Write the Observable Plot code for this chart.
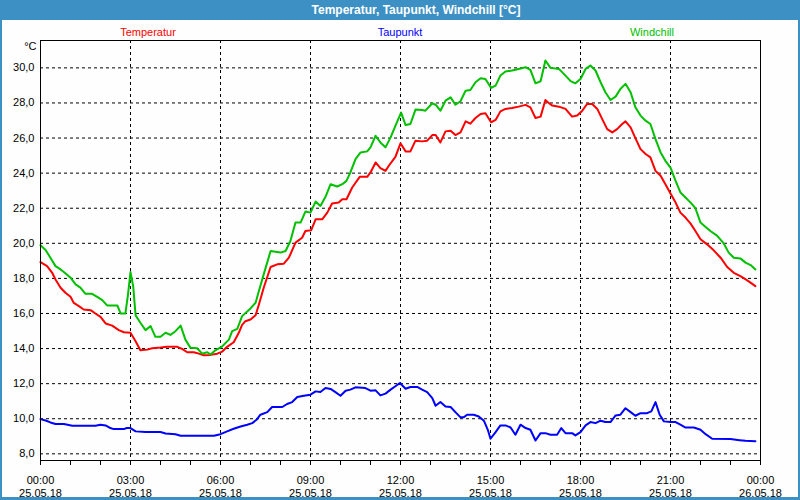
<!DOCTYPE html>
<html><head><meta charset="utf-8">
<script src="https://cdn.jsdelivr.net/npm/d3@7"></script>
<script src="https://cdn.jsdelivr.net/npm/@observablehq/plot@0.6"></script>
<style>
body{margin:0;background:#fff;}
#wrap{position:relative;width:800px;height:500px;background:#fdfefd;font-family:"Liberation Sans",Arial,sans-serif;overflow:hidden;}
#title{height:20px;background:#3d90c4;color:#fff;font-weight:bold;font-size:12px;line-height:20px;position:relative;}
#title span{position:absolute;left:416px;top:0;transform:translateX(-50%);white-space:nowrap;}
#border{position:absolute;left:0;top:0;width:800px;height:500px;box-sizing:border-box;border:2px solid #3d90c4;border-top:none;border-bottom-width:3px;pointer-events:none;}
.leg{position:absolute;top:26px;font-size:11px;line-height:12px;transform:translateX(-50%);white-space:nowrap;}
#chart svg{display:block;}
</style>
</head><body>
<div id="wrap">
  <div id="title"><span>Temperatur, Taupunkt, Windchill [°C]</span></div>
  <div id="chart"></div>
  <div class="leg" id="leg0"></div>
  <div class="leg" id="leg1"></div>
  <div class="leg" id="leg2"></div>
  <div id="border"></div>
</div>
<script>
// Series names and colours
const seriesNames = ["Temperatur", "Taupunkt", "Windchill"];
const seriesColors = ["#ff0000", "#0000ff", "#00c000"];

// X tick labels (hours since 25.05.18 00:00)
const majorHours = [0, 3, 6, 9, 12, 15, 18, 21, 24];
const timeLabels = ["00:00","03:00","06:00","09:00","12:00","15:00","18:00","21:00","00:00"];
const dateLabels = ["25.05.18","25.05.18","25.05.18","25.05.18","25.05.18","25.05.18","25.05.18","25.05.18","26.05.18"];
const minorHours = d3.range(0, 25);
const yTicks = [8, 10, 12, 14, 16, 18, 20, 22, 24, 26, 28, 30];

// Temperatur
const tempHours = [0,0.22,0.39,0.5,0.67,0.83,1.0,1.11,1.28,1.44,1.67,1.83,2.0,2.17,2.39,2.61,2.78,3.0,3.17,3.33,3.56,3.72,4.0,4.22,4.56,4.72,4.89,5.11,5.28,5.44,5.67,5.89,6.06,6.22,6.44,6.61,6.72,6.83,7.0,7.17,7.28,7.44,7.67,7.89,8.11,8.28,8.5,8.72,8.83,9.02,9.17,9.39,9.56,9.72,9.94,10.06,10.2,10.39,10.64,10.89,11.0,11.17,11.33,11.5,11.61,11.83,12.0,12.17,12.33,12.5,12.72,12.89,13.06,13.17,13.33,13.5,13.67,13.83,14.0,14.17,14.33,14.5,14.67,14.83,15.02,15.17,15.33,15.5,15.72,15.94,16.17,16.33,16.5,16.67,16.83,16.91,17.06,17.28,17.5,17.72,17.89,18.06,18.22,18.39,18.56,18.72,18.89,19.06,19.22,19.39,19.5,19.67,19.83,20.0,20.17,20.33,20.5,20.67,20.83,21.0,21.17,21.33,21.5,21.67,21.83,22.0,22.22,22.44,22.67,22.89,23.11,23.33,23.56,23.83];
const tempValues = [18.93,18.7,18.32,17.94,17.47,17.18,16.95,16.6,16.42,16.23,16.19,16.0,15.81,15.43,15.31,15.05,14.93,14.9,14.42,13.9,13.94,14.02,14.06,14.1,14.1,13.98,13.79,13.79,13.71,13.62,13.64,13.71,13.83,14.1,14.36,14.9,15.35,15.56,15.66,15.9,16.51,17.47,18.65,18.8,18.84,19.18,20.04,20.32,20.7,20.74,21.37,21.37,21.75,22.27,22.32,22.51,22.51,23.18,23.79,23.79,24.04,24.61,24.29,24.13,24.42,24.93,25.7,25.24,25.24,25.85,25.81,25.85,26.17,26.17,25.75,26.38,26.42,26.17,26.32,26.95,26.82,27.14,27.37,27.41,26.9,27.03,27.52,27.66,27.71,27.79,27.89,27.75,27.14,27.22,28.17,28.04,27.85,27.79,27.66,27.22,27.28,27.56,27.94,27.94,27.66,27.09,26.51,26.32,26.51,26.8,26.95,26.61,26.0,25.37,25.09,24.9,24.13,23.85,23.37,22.84,22.32,21.75,21.47,21.12,20.7,20.23,19.94,19.6,19.18,18.65,18.32,18.13,17.89,17.56];

// Taupunkt
const dewHours = [0,0.17,0.33,0.5,0.78,1.06,1.83,2.0,2.17,2.33,2.44,2.78,2.87,3.0,3.17,3.5,4.0,4.17,4.5,4.67,5.78,6.0,6.22,6.44,6.67,6.89,7.06,7.2,7.33,7.56,7.72,8.06,8.22,8.39,8.56,8.78,9.0,9.17,9.33,9.5,9.67,9.83,10.0,10.17,10.33,10.5,10.83,11.0,11.17,11.33,11.5,11.67,11.83,11.98,12.17,12.33,12.56,12.72,12.89,13.06,13.17,13.33,13.5,13.67,13.83,14.0,14.11,14.22,14.44,14.61,14.78,14.91,15.0,15.17,15.33,15.5,15.67,15.83,16.0,16.17,16.33,16.5,16.67,16.83,17.0,17.22,17.36,17.5,17.72,17.83,18.0,18.17,18.33,18.5,18.67,18.83,19.0,19.17,19.33,19.5,19.67,19.83,20.0,20.22,20.36,20.5,20.64,20.78,21.0,21.17,21.33,21.5,21.78,22.0,22.17,22.39,23.0,23.3,23.5,23.83];
const dewValues = [9.98,9.9,9.79,9.7,9.7,9.6,9.6,9.66,9.62,9.47,9.41,9.41,9.47,9.47,9.28,9.24,9.24,9.16,9.12,9.03,9.03,9.12,9.28,9.43,9.56,9.66,9.75,9.94,10.23,10.38,10.67,10.67,10.84,10.95,11.24,11.31,11.37,11.56,11.52,11.75,11.7,11.52,11.31,11.6,11.66,11.79,11.75,11.6,11.62,11.33,11.43,11.66,11.85,12.04,11.71,11.81,11.81,11.66,11.52,11.18,10.74,10.95,10.7,10.67,10.38,10.08,10.08,10.23,10.23,10.13,9.89,9.37,8.86,9.24,9.62,9.62,9.5,9.09,9.66,9.47,9.37,8.76,9.18,9.18,9.09,9.09,9.47,9.18,9.18,9.05,9.24,9.62,9.81,9.75,9.89,9.81,9.81,10.19,10.23,10.6,10.38,10.17,10.32,10.32,10.42,10.95,10.23,9.85,9.81,9.81,9.66,9.5,9.5,9.37,9.12,8.86,8.84,8.78,8.74,8.72];

// Windchill
const chillHours = [0,0.17,0.33,0.5,0.67,0.83,1.0,1.17,1.33,1.5,1.72,1.89,2.06,2.22,2.56,2.67,2.83,2.91,3.0,3.09,3.17,3.33,3.5,3.67,3.83,4.0,4.17,4.33,4.5,4.67,4.83,5.0,5.22,5.39,5.56,5.67,5.83,6.06,6.28,6.39,6.56,6.72,7.0,7.17,7.28,7.44,7.67,7.83,8.0,8.17,8.33,8.5,8.67,8.83,9.0,9.17,9.33,9.5,9.67,9.89,10.06,10.2,10.33,10.5,10.67,10.89,11.0,11.17,11.33,11.5,11.67,11.83,12.02,12.17,12.33,12.5,12.72,12.83,13.06,13.17,13.33,13.5,13.67,13.83,14.0,14.17,14.33,14.5,14.67,14.83,15.02,15.17,15.33,15.5,15.72,15.94,16.17,16.33,16.5,16.67,16.83,17.0,17.28,17.5,17.67,17.83,18.0,18.17,18.33,18.5,18.67,18.83,19.0,19.17,19.33,19.5,19.67,19.83,20.0,20.17,20.33,20.5,20.67,20.83,21.0,21.17,21.33,21.5,21.67,21.83,22.0,22.17,22.33,22.56,22.78,22.94,23.11,23.33,23.5,23.67,23.83];
const chillValues = [19.89,19.62,19.18,18.7,18.51,18.29,18.04,17.66,17.47,17.12,17.12,16.95,16.76,16.46,16.46,16.0,16.0,16.99,18.36,17.56,15.89,15.47,15.05,15.28,14.67,14.67,14.9,14.78,14.99,15.31,14.51,14.04,14.02,13.71,13.79,13.66,13.9,14.13,14.51,14.99,15.12,15.85,16.29,16.61,17.28,18.23,19.56,19.52,19.47,19.56,20.13,21.18,21.18,21.81,21.75,22.38,22.13,22.65,23.37,23.24,23.37,23.56,24.04,24.8,25.18,25.24,25.47,26.13,25.75,25.47,26.04,26.7,27.45,26.74,26.8,27.62,27.6,27.56,27.98,27.9,27.56,28.13,28.32,27.9,28.1,28.7,28.74,29.18,29.41,29.37,28.86,28.99,29.56,29.79,29.85,29.94,30.04,29.89,29.12,29.24,30.42,30.0,29.94,29.56,29.24,29.12,29.37,29.94,30.13,29.85,29.18,28.61,28.17,28.36,28.8,29.09,28.61,27.75,27.28,26.99,26.8,25.94,25.18,24.7,24.32,23.56,22.9,22.61,22.32,22.0,21.18,20.93,20.7,20.42,19.98,19.47,19.18,19.14,18.9,18.76,18.51];

const toRows = (hs, vs) => hs.map((h, i) => ({h, v: vs[i]}));
const temp = toRows(tempHours, tempValues);
const dew = toRows(dewHours, dewValues);
const chill = toRows(chillHours, chillValues);

const dash = {stroke: "#000", strokeOpacity: 1, strokeDasharray: "3,3"};

const chart = Plot.plot({
  width: 800,
  height: 480,
  marginTop: 20,
  marginBottom: 40,
  marginLeft: 40,
  marginRight: 40,
  style: {background: "transparent", fontFamily: "Liberation Sans, Arial, sans-serif", fontSize: "11px", color: "#000"},
  x: {domain: [0, 24], axis: null},
  y: {domain: [7.62, 31.56], axis: null},
  marks: [
    Plot.gridY(yTicks, dash),
    Plot.gridX(majorHours.slice(1, -1), dash),
    Plot.line(dew, {x: "h", y: "v", stroke: seriesColors[1], strokeWidth: 2}),
    Plot.line(temp, {x: "h", y: "v", stroke: seriesColors[0], strokeWidth: 2}),
    Plot.line(chill, {x: "h", y: "v", stroke: seriesColors[2], strokeWidth: 2}),
    Plot.frame({stroke: "#000"}),
    Plot.axisY(yTicks, {tickSize: 0, tickPadding: 6, tickFormat: d => d.toFixed(1).replace(".", ","), label: null, fontSize: 11}),
    Plot.axisX(minorHours, {tickSize: 5, tickFormat: () => "", label: null, stroke: "#000"}),
    Plot.text(majorHours, {x: d => d, frameAnchor: "bottom", dy: 20, text: (d, i) => timeLabels[i], fontSize: 11, lineAnchor: "middle", fill: "#000"}),
    Plot.text(majorHours, {x: d => d, frameAnchor: "bottom", dy: 33, text: (d, i) => dateLabels[i], fontSize: 11, lineAnchor: "middle", fill: "#000"}),
    Plot.text(["°C"], {frameAnchor: "top-left", dx: -4, dy: 6, text: d => d, textAnchor: "end", lineAnchor: "middle", fontSize: 11, fill: "#000"})
  ]
});
document.getElementById("chart").appendChild(chart);

const legX = [148, 400, 652];
seriesNames.forEach((n, i) => {
  const el = document.getElementById("leg" + i);
  el.textContent = n;
  el.style.left = legX[i] + "px";
  el.style.color = seriesColors[i];
});
</script>
</body></html>
